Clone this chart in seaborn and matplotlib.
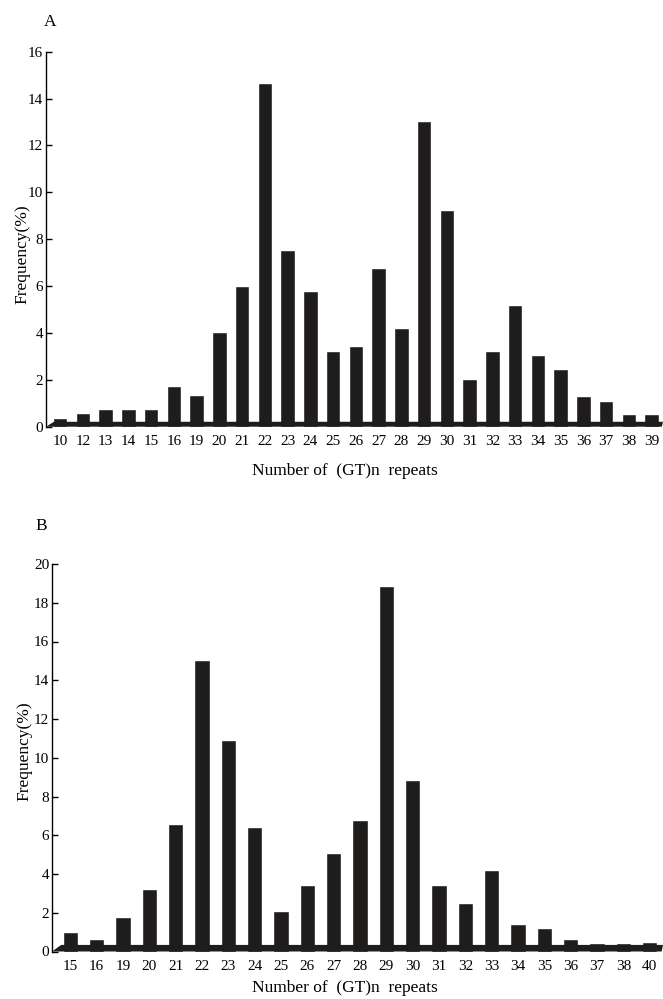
import matplotlib
matplotlib.use("Agg")
import matplotlib.pyplot as plt
import seaborn as sns
import pandas as pd

# ---- data ----
repeats_a = ["10", "12", "13", "14", "15", "16", "19", "20", "21", "22", "23", "24", "25", "26",
             "27", "28", "29", "30", "31", "32", "33", "34", "35", "36", "37", "38", "39"]
freq_a = [0.38, 0.57, 0.75, 0.75, 0.75, 1.75, 1.35, 4.05, 6.0, 14.65, 7.55, 5.8, 3.25, 3.45,
          6.75, 4.2, 13.05, 9.25, 2.05, 3.25, 5.2, 3.05, 2.45, 1.3, 1.1, 0.53, 0.53]

repeats_b = ["15", "16", "19", "20", "21", "22", "23", "24", "25", "26", "27", "28", "29", "30",
             "31", "32", "33", "34", "35", "36", "37", "38", "40"]
freq_b = [1.02, 0.65, 1.77, 3.25, 6.6, 15.05, 10.9, 6.45, 2.1, 3.45, 5.1, 6.8, 18.85, 8.85,
          3.45, 2.5, 4.2, 1.4, 1.2, 0.66, 0.45, 0.45, 0.47]

yticks_a = [0, 2, 4, 6, 8, 10, 12, 14, 16]
yticks_b = [0, 2, 4, 6, 8, 10, 12, 14, 16, 18, 20]

xlabel_text = "Number of  (GT)n  repeats"
ylabel_text = "Frequency(%)"

# ---- style ----
sns.set_theme(style="white")
plt.rcParams["font.family"] = ["Liberation Serif", "DejaVu Serif"]
BAR = "#1f1c1c"

fig = plt.figure(figsize=(6.63, 9.99), dpi=100)

def panel(rect, cats, vals, yticks, ymax, width, band, x0, letter, letter_xy, ylab_xy, xlab_y):
    ax = fig.add_axes(rect)
    df = pd.DataFrame({"repeat": cats, "freq": vals})
    sns.barplot(data=df, x="repeat", y="freq", ax=ax, color=BAR, saturation=1,
                width=width, order=cats)
    n = len(cats)
    x1 = n - 0.5
    ax.set_xlim(x0, x1)
    ax.set_ylim(0, ymax)
    # floor band of the pseudo-3D chart
    ax.fill([x0, x0 + 0.35, x1, x1 - 0.05], [0, band, band, 0], color=BAR, lw=0, zorder=3)
    for s in ["top", "right", "bottom"]:
        ax.spines[s].set_visible(False)
    ax.spines["left"].set_color("black")
    ax.spines["left"].set_linewidth(1.0)
    ax.set_yticks(yticks)
    ax.set_yticklabels([str(t) for t in yticks])
    ax.tick_params(axis="y", direction="in", length=4.5, width=1.0, pad=2,
                   labelsize=11, colors="black", left=True)
    ax.tick_params(axis="x", length=0, pad=6, labelsize=11, colors="black")
    ax.set_xlabel("")
    ax.set_ylabel("")
    fig.text(ylab_xy[0], ylab_xy[1], ylabel_text, rotation=90, ha="center",
             va="center", fontsize=12.5, color="black")
    fig.text(0.52, xlab_y, xlabel_text, ha="center", va="center", fontsize=12.5, color="black")
    fig.text(letter_xy[0], letter_xy[1], letter, ha="center", va="center", fontsize=12.5,
             color="black")
    ax.grid(False)
    return ax

panel([46 / 663, 1 - 426.7 / 999, 1 - 46 / 663, (426.7 - 51.7) / 999],
      repeats_a, freq_a, yticks_a, 16, 0.64, 0.21, -0.62, "A", (50 / 663, 1 - 22 / 999),
      (22 / 663, 1 - 254 / 999), 1 - 471 / 999)
panel([52 / 663, 1 - 951.5 / 999, 1 - 52 / 663, (951.5 - 564) / 999],
      repeats_b, freq_b, yticks_b, 20, 0.58, 0.34, -0.69, "B", (41.5 / 663, 1 - 526 / 999),
      (24 / 663, 1 - 751 / 999), 1 - 988 / 999)

fig.savefig("out.png", dpi=100, facecolor="white")
